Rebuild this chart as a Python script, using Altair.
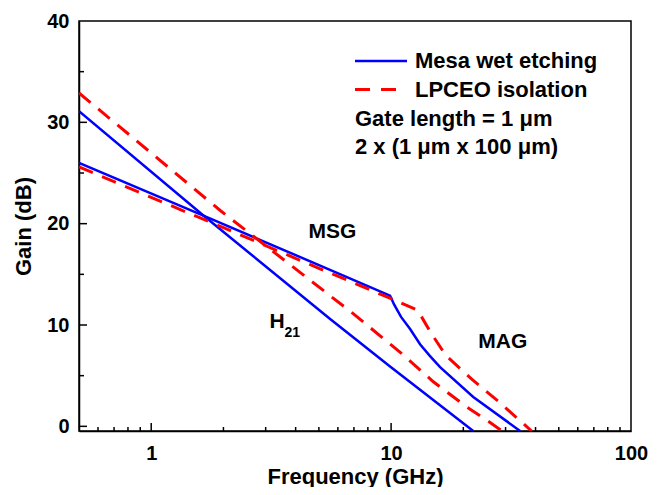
import altair as alt
import pandas as pd

# ---- data ----
blue_h21_f = [0.5, 1.65, 5.57, 9.9, 22.0]
blue_h21_g = [31.1, 20.8, 10.6, 5.9, -0.46]

blue_msg_f = [0.5, 1.65, 9.9, 10.3, 11.0, 12.0, 13.2, 14.5, 16.0, 22.0, 34.5]
blue_msg_g = [26.0, 20.8, 12.9, 12.0, 10.8, 9.6, 8.1, 6.95, 5.85, 2.9, -0.46]

red_h21_f = [0.5, 1.94, 6.97, 11.3, 15.0, 20.7, 25.4, 29.0]
red_h21_g = [32.9, 21.3, 11.1, 7.0, 4.4, 1.9, 0.5, -0.46]

red_msg_f = [0.5, 2.0, 5.0, 10.0, 12.8, 13.4, 14.5, 16.9, 21.8, 28.2, 38.5]
red_msg_g = [25.6, 19.6, 15.6, 12.6, 11.5, 10.8, 9.4, 7.0, 4.6, 2.4, -0.46]

x_major_ticks = [1, 10]
x_minor_ticks = [0.6, 0.7, 0.8, 0.9, 2, 3, 4, 5, 6, 7, 8, 9,
                 20, 30, 40, 50, 60, 70, 80, 90]
y_major_ticks = [0, 10, 20, 30]
y_minor_ticks = [5, 15, 25, 35]

legend_labels = ["Mesa wet etching", "LPCEO isolation",
                 "Gate length = 1 \u03bcm", "2 x (1 \u03bcm x 100 \u03bcm)"]

W, H = 552, 410
FONT = "Liberation Sans"
BLUE = "#0000ff"
RED = "#ff0000"

rows = []
for series, curve, fs, gs in [
    ("blue", "h21", blue_h21_f, blue_h21_g),
    ("blue", "msg", blue_msg_f, blue_msg_g),
    ("red", "h21", red_h21_f, red_h21_g),
    ("red", "msg", red_msg_f, red_msg_g),
]:
    for i, (f, g) in enumerate(zip(fs, gs)):
        rows.append({"series": series, "curve": curve, "f": f, "g": g, "order": i})
df = pd.DataFrame(rows)

xscale = alt.Scale(type="log", domain=[0.5, 100], nice=False)
yscale = alt.Scale(domain=[-0.46, 40], nice=False, zero=False)

xaxis = alt.Axis(values=[1, 10, 100], format="~g", ticks=False, grid=False,
                 labelFlush=False, labelOverlap=False,
                 labelPadding=12, title="Frequency (GHz)", titlePadding=3)
yaxis = alt.Axis(values=[0, 10, 20, 30, 40], ticks=False, grid=False,
                 labelFlush=False, labelOverlap=False,
                 labelPadding=10, title="Gain (dB)", titlePadding=11)


def X(field):
    return alt.X(field, scale=xscale, axis=xaxis)


def Y(field):
    return alt.Y(field, scale=yscale, axis=yaxis)


blue_lines = alt.Chart(df[df.series == "blue"]).mark_line(
    color=BLUE, strokeWidth=2.5, clip=True
).encode(x=X("f:Q"), y=Y("g:Q"), detail="curve:N", order="order:Q")

red_lines = alt.Chart(df[df.series == "red"]).mark_line(
    color=RED, strokeWidth=3, strokeDash=[15, 10], clip=True
).encode(x=X("f:Q"), y=Y("g:Q"), detail="curve:N", order="order:Q")


# inward ticks
def xticks(vals, length):
    return alt.Chart(pd.DataFrame({"f": vals})).mark_rule(color="black", strokeWidth=1.5).encode(
        x=X("f:Q"), y=alt.value(H), y2=alt.value(H - length))


def yticks(vals, length):
    return alt.Chart(pd.DataFrame({"g": vals})).mark_rule(color="black", strokeWidth=1.5).encode(
        y=Y("g:Q"), x=alt.value(0), x2=alt.value(length))


tick_layers = [xticks(x_major_ticks, 8), xticks(x_minor_ticks, 4),
               yticks(y_major_ticks, 8), yticks(y_minor_ticks, 5)]

# legend (manual)
leg_blue = alt.Chart(pd.DataFrame({"a": [0]})).mark_rule(color=BLUE, strokeWidth=2.5).encode(
    x=alt.value(276), x2=alt.value(328), y=alt.value(40))
leg_red = alt.Chart(pd.DataFrame({"a": [0]})).mark_rule(color=RED, strokeWidth=3, strokeDash=[15, 11]).encode(
    x=alt.value(276), x2=alt.value(318), y=alt.value(68.6))


def legtext(label, x, y):
    return alt.Chart(pd.DataFrame({"t": [label]})).mark_text(
        font=FONT, fontWeight="bold", fontSize=22, align="left", baseline="middle", color="black"
    ).encode(x=alt.value(x), y=alt.value(y), text="t:N")


leg_texts = [legtext(legend_labels[0], 336, 40), legtext(legend_labels[1], 336, 68.6),
             legtext(legend_labels[2], 276, 97.6), legtext(legend_labels[3], 276, 126)]


# curve annotations
def annot(label, f, g, size):
    return alt.Chart(pd.DataFrame({"t": [label], "f": [f], "g": [g]})).mark_text(
        font=FONT, fontWeight="bold", fontSize=size, align="center", baseline="middle", color="black"
    ).encode(x=X("f:Q"), y=Y("g:Q"), text="t:N")


annots = [annot("MSG", 5.7, 19.2, 21), annot("MAG", 29.2, 8.3, 21),
          annot("H", 3.35, 10.3, 21), annot("21", 3.87, 9.2, 14)]

chart = alt.layer(
    blue_lines, red_lines, *tick_layers, leg_blue, leg_red, *leg_texts, *annots
).properties(
    width=W, height=H,
    autosize=alt.AutoSizeParams(type="none"),
    padding={"left": 71, "top": 13, "right": 20, "bottom": 56},
).configure_view(
    stroke="black", strokeWidth=1.5
).configure_axis(
    domainColor="black", domainWidth=1.5,
    labelFont=FONT, labelFontWeight="bold", labelFontSize=20, labelColor="black",
    titleFont=FONT, titleFontWeight="bold", titleFontSize=22, titleColor="black",
)

chart.save("out.html", embed_options={"renderer": "svg", "actions": False})
